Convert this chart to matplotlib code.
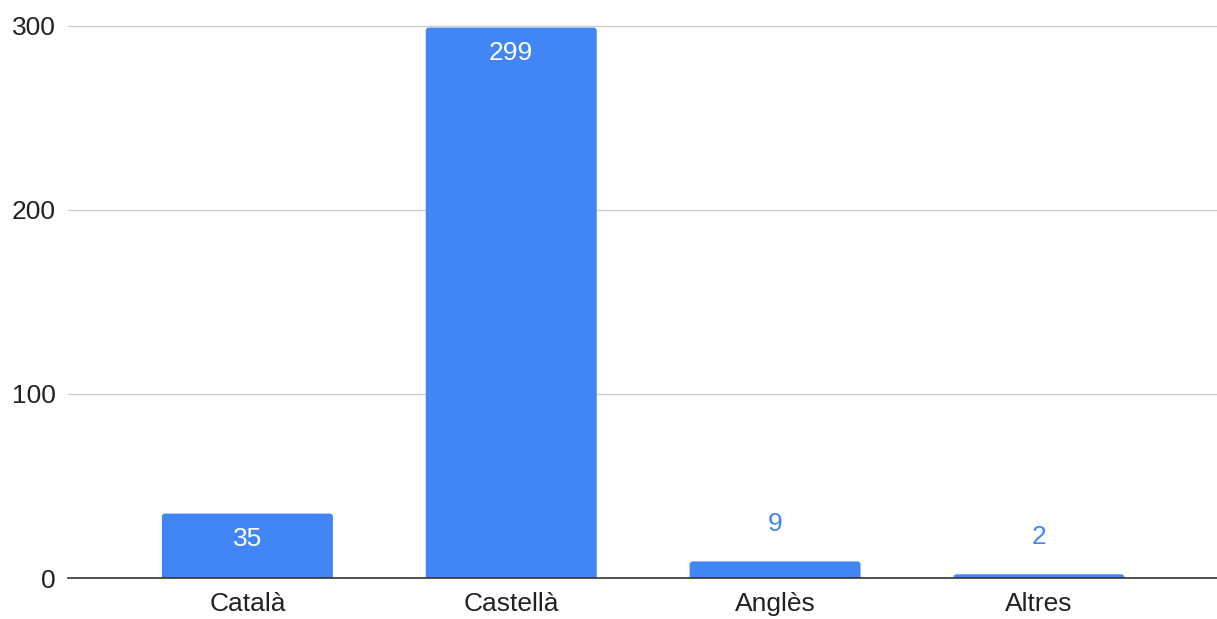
import matplotlib.pyplot as plt
import numpy as np
from matplotlib.patches import FancyBboxPatch

idiomes = ["Català", "Castellà", "Anglès", "Altres"]
respostes = [35, 299, 9, 2]
yticks = [0, 100, 200, 300]

BLUE = "#4285F4"
plt.rcParams["font.family"] = ["Liberation Sans", "DejaVu Sans"]

fig = plt.figure(figsize=(12.17, 6.19), dpi=100)
ax = fig.add_axes([68 / 1217, (619 - 578) / 619, (1217 - 68) / 1217, 578 / 619])

x = np.arange(len(idiomes))
width = 0.648

ax.set_xlim(-0.68, len(idiomes) - 1 + 0.675)
ax.set_ylim(0, 314)

# barres amb cantonades arrodonides (la base queda sota l'eix)
px_x = 1149 / (ax.get_xlim()[1] - ax.get_xlim()[0])
px_y = 578 / 314
r = 3 / px_x
for xi, v in zip(x, respostes):
    patch = FancyBboxPatch((xi - width / 2, -4), width, v + 4,
                           boxstyle=f"round,pad=0,rounding_size={r}",
                           mutation_aspect=px_x / px_y,
                           facecolor=BLUE, edgecolor="none", zorder=3)
    ax.add_patch(patch)

ax.set_yticks(yticks)
ax.set_xticks(x)
ax.set_xticklabels(idiomes)
ax.tick_params(axis="both", length=0, labelsize=19, colors="#222222")
ax.tick_params(axis="y", pad=9)
ax.tick_params(axis="x", pad=10)

ax.grid(axis="y", color="#cccccc", linewidth=1, zorder=0)
for side in ["top", "right", "left"]:
    ax.spines[side].set_visible(False)
ax.spines["bottom"].set_color("#333333")
ax.spines["bottom"].set_linewidth(1.2)
ax.spines["bottom"].set_zorder(4)

for xi, v in zip(x, respostes):
    if v > 20:
        ax.annotate(str(v), (xi, v), xytext=(0, -25), textcoords="offset pixels",
                    ha="center", va="center", color="white", fontsize=19, zorder=5)
    else:
        ax.annotate(str(v), (xi, v), xytext=(0, 37), textcoords="offset pixels",
                    ha="center", va="center", color=BLUE, fontsize=19, zorder=5)

fig.savefig("out.png", dpi=100)
